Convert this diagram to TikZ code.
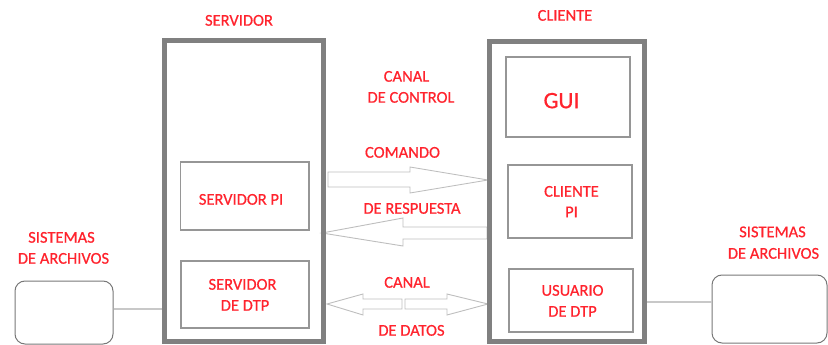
\documentclass[tikz,border=0pt]{standalone}
\usepackage{fontspec}
\setmainfont{Carlito}[RawFeature={embolden=0.6}]
\definecolor{txtred}{RGB}{255,35,45}
\definecolor{boxgray}{RGB}{128,128,128}
\definecolor{ingray}{RGB}{150,150,150}
\definecolor{fsgray}{RGB}{120,120,120}
\definecolor{arrgray}{RGB}{190,190,190}
\definecolor{linkgray}{RGB}{200,200,200}
\begin{document}
\begin{tikzpicture}[x=1pt,y=-1pt,
  lbl/.style={text=txtred, font=\fontsize{16.5}{20}\selectfont, anchor=base, inner sep=0},
  biglbl/.style={text=txtred, font=\fontsize{23.5}{28}\selectfont, anchor=base, inner sep=0},
  outerbox/.style={draw=boxgray, line width=5pt, inner sep=0},
  innerbox/.style={draw=ingray, line width=1.2pt, inner sep=0},
  fsbox/.style={draw=fsgray, line width=1pt, rounded corners=10pt, inner sep=0},
  blockarrow/.style={draw=arrgray, line width=0.9pt, fill=white, line join=miter},
  link/.style={draw=linkgray, line width=1.5pt}]
\useasboundingbox (0,0) rectangle (828,345);

% block arrows
\draw[blockarrow] (328,172) -- (410,172) -- (410,167) -- (488,180) -- (410,193) -- (410,187) -- (328,187) -- cycle;
\draw[blockarrow] (487,227) -- (403,227) -- (403,218) -- (322,233) -- (403,246) -- (403,239) -- (487,239) -- cycle;
\draw[blockarrow] (402,299) -- (363,299) -- (363,294) -- (327,304) -- (363,315) -- (363,309) -- (402,309) -- cycle;
\draw[blockarrow] (405,299) -- (447,299) -- (447,294) -- (488,304) -- (447,315) -- (447,309) -- (405,309) -- cycle;

% file system boxes
\node[fsbox, minimum width=98pt, minimum height=63pt] (fsL) at (64,312.5) {};
\node[fsbox, minimum width=115pt, minimum height=68pt] (fsR) at (769.5,309) {};

% outer boxes
\node[outerbox, minimum width=159pt, minimum height=301pt] (srv) at (244,191) {};
\node[outerbox, minimum width=155pt, minimum height=300pt] (cli) at (567,191.5) {};

% links
\coordinate (lL) at ([yshift=3.5pt]fsL.east);
\draw[link] (lL) -- (lL -| srv.west);
\coordinate (lR) at ([yshift=7pt]fsR.west);
\draw[link] (lR) -- (lR -| cli.east);

% inner boxes
\node[innerbox, minimum width=128.5pt, minimum height=68pt] (srvpi) at (244.75,196) {};
\node[innerbox, minimum width=128pt, minimum height=67pt] (srvdtp) at (245,294.5) {};
\node[innerbox, minimum width=124pt, minimum height=80pt] (gui) at (568,97) {};
\node[innerbox, minimum width=124pt, minimum height=73pt] (clipi) at (570,201.5) {};
\node[innerbox, minimum width=124pt, minimum height=63pt] (usrdtp) at (571,300.5) {};

% labels
\node[lbl] (tsrv) at (239,25.7) {SERVIDOR};
\node[lbl] (tcli) at (565,20.7) {CLIENTE};
\node[lbl] (tcanal1) at (406.5,81.7) {CANAL};
\node[lbl] (tcontrol) at (411,102.7) {DE CONTROL};
\node[lbl] (tcomando) at (402.5,157.7) {COMANDO};
\node[lbl] (tresp) at (412,213.7) {DE RESPUESTA};
\node[lbl] (tcanal2) at (407,287.7) {CANAL};
\node[lbl] (tdatos) at (411.5,335.7) {DE DATOS};
\node[lbl] (tsisL) at (61.5,242.7) {SISTEMAS};
\node[lbl] (tarchL) at (63.5,263.7) {DE ARCHIVOS};
\node[lbl] (tsisR) at (772.5,237.2) {SISTEMAS};
\node[lbl] (tarchR) at (773.5,258.7) {DE ARCHIVOS};
\node[lbl] (tsrvpi) at (241,204.7) {SERVIDOR PI};
\node[lbl] (tsrvdtp1) at (242.5,289.7) {SERVIDOR};
\node[lbl] (tsrvdtp2) at (245,310.7) {DE DTP};
\node[lbl] (tusr1) at (572.5,295.7) {USUARIO};
\node[lbl] (tusr2) at (572.5,316.7) {DE DTP};
\node[lbl] (tclipi1) at (571.5,196.7) {CLIENTE};
\node[lbl] (tclipi2) at (571.5,217.2) {PI};
\node[biglbl] (tgui) at (561.5,108.2) {GUI};
\end{tikzpicture}
\end{document}
